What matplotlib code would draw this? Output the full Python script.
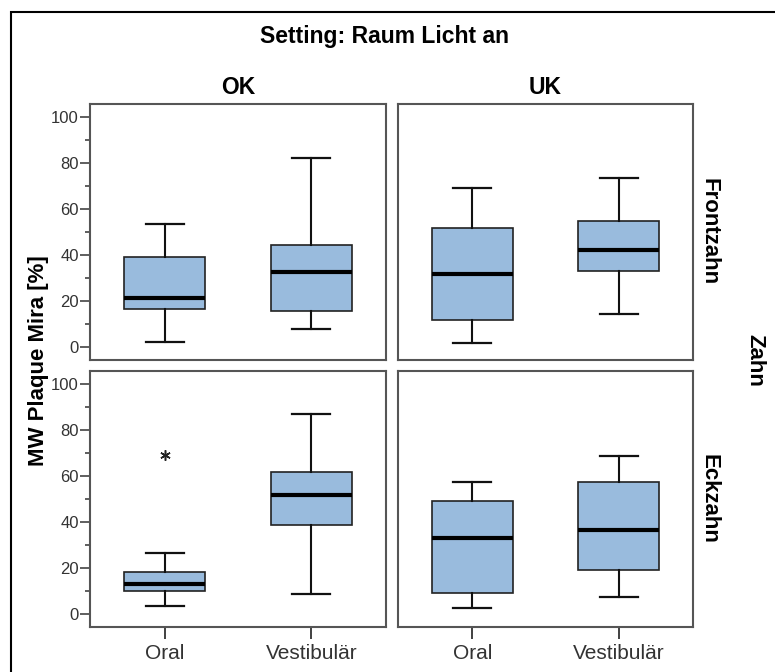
import matplotlib.pyplot as plt
from matplotlib.patches import Rectangle

plt.rcParams['font.family'] = ['Liberation Sans', 'DejaVu Sans']

# Kieferseite (Spalten) und Zahngruppe (Zeilen)
columns = ['OK', 'UK']
rows = ['Frontzahn', 'Eckzahn']
sides = ['Oral', 'Vestibulär']

# Boxplot-Kennwerte je Panel: [unterer Whisker, Q1, Median, Q3, oberer Whisker]
ok_front = [[2.3, 16.7, 21.5, 39.0, 53.4], [7.8, 15.8, 32.8, 44.2, 82.1]]
uk_front = [[1.7, 11.7, 32.0, 51.8, 69.0], [14.3, 32.9, 42.3, 54.7, 73.3]]
ok_eck = [[3.6, 10.0, 13.1, 18.3, 26.6], [9.0, 38.7, 51.7, 61.6, 86.7]]
uk_eck = [[2.9, 9.4, 32.9, 49.1, 57.2], [7.5, 19.1, 36.5, 57.2, 68.5]]

# Ausreißer (Extremwert, als Stern markiert)
ok_eck_extreme = [[68.9], []]
no_extreme = [[], []]

panels = {
    (0, 0): (ok_front, no_extreme),
    (0, 1): (uk_front, no_extreme),
    (1, 0): (ok_eck, ok_eck_extreme),
    (1, 1): (uk_eck, no_extreme),
}

W, H = 775, 672
fig = plt.figure(figsize=(W / 100, H / 100), dpi=100)

col_px = [(90, 386), (398, 693)]
row_px = [(104, 360), (371, 627)]
box_color = '#99bbdd'
frame_color = '#555555'


def px_rect(x0, x1, y0, y1):
    return [x0 / W, 1 - y1 / H, (x1 - x0) / W, (y1 - y0) / H]


for (r, c), (vals, extremes) in panels.items():
    ax = fig.add_axes(px_rect(*col_px[c], *row_px[r]))
    stats = []
    for v, ext in zip(vals, extremes):
        stats.append(dict(whislo=v[0], q1=v[1], med=v[2], q3=v[3], whishi=v[4], fliers=[]))
    ax.bxp(stats, positions=[0, 1], widths=0.55, capwidths=0.26, patch_artist=True,
           boxprops=dict(facecolor=box_color, edgecolor='#222222', linewidth=1.2),
           medianprops=dict(color='black', linewidth=3),
           whiskerprops=dict(color='#111111', linewidth=1.5),
           capprops=dict(color='#111111', linewidth=1.6))
    for i, ext in enumerate(extremes):
        for e in ext:
            ax.plot([i], [e], marker=(6, 2, 0), color='#222222', markersize=7.5,
                    markeredgewidth=1.1, linestyle='none')

    ax.set_xlim(-0.51, 1.51)
    ax.set_ylim(-5.5, 105.5)
    for s in ax.spines.values():
        s.set_color(frame_color)
        s.set_linewidth(1.5)

    if c == 0:
        ax.set_yticks([0, 20, 40, 60, 80, 100])
        ax.set_yticks([10, 30, 50, 70, 90], minor=True)
        ax.tick_params(axis='y', which='major', length=7, width=1.1, color='#333333',
                       labelsize=12, labelcolor='#333333', pad=1)
        ax.tick_params(axis='y', which='minor', length=3.6, width=1.1, color='#333333')
    else:
        ax.set_yticks([])
    if r == 1:
        ax.set_xticks([0, 1])
        ax.set_xticklabels(sides)
        ax.tick_params(axis='x', length=8.5, width=1.3, color='#333333',
                       labelsize=15, labelcolor='#333333', pad=4)
    else:
        ax.set_xticks([])

    if r == 0:
        ax.set_title(columns[c], fontsize=16.5, fontweight='bold', pad=7)
    if c == 1:
        ax.text(1.055, 0.5, rows[r], transform=ax.transAxes,
                rotation=-90, ha='center', va='center', fontsize=16, fontweight='bold')

fig.text(384 / W, 1 - 37 / H, 'Setting: Raum Licht an', ha='center', va='center',
         fontsize=16.5, fontweight='bold')
fig.text(39 / W, 1 - 361 / H, 'MW Plaque Mira [%]', rotation=90, ha='center',
         va='center', fontsize=16, fontweight='bold')
fig.text(755 / W, 1 - 360 / H, 'Zahn', rotation=-90, ha='center', va='center',
         fontsize=16, fontweight='bold')

# äußerer Rahmen
fig.add_artist(Rectangle((11 / W, -0.1), 1.1, 1 - 12 / H + 0.1, transform=fig.transFigure,
                         fill=False, edgecolor='black', linewidth=1.5))

fig.savefig('out.png', dpi=100)
